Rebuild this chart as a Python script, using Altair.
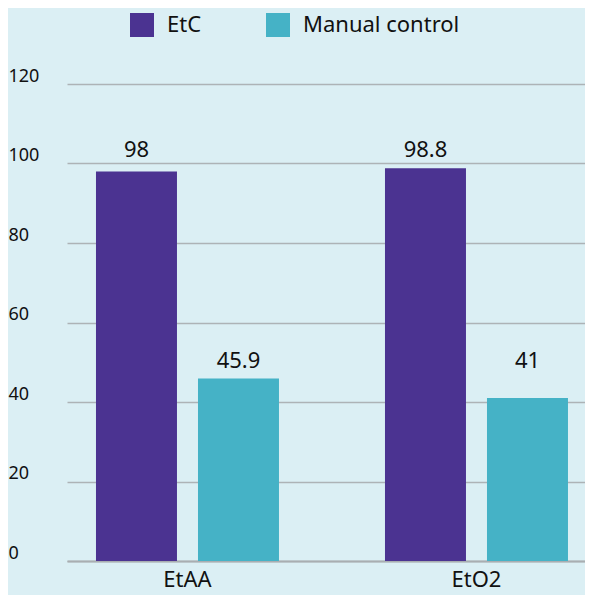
import altair as alt
import pandas as pd

categories = ["EtAA", "EtO2"]
series = ["EtC", "Manual control"]
etc_values = [98, 98.8]
manual_values = [45.9, 41]
etc_labels = ["98", "98.8"]
manual_labels = ["45.9", "41"]
y_ticks = [0, 20, 40, 60, 80, 100, 120]
colors = ["#4B3391", "#45B2C6"]

rows = []
for i, c in enumerate(categories):
    rows.append({"category": c, "series": series[0], "value": etc_values[i], "label": etc_labels[i]})
    rows.append({"category": c, "series": series[1], "value": manual_values[i], "label": manual_labels[i]})
df = pd.DataFrame(rows)

FONT = "Noto Sans"
TXT = "#111111"

x = alt.X(
    "category:N",
    sort=categories,
    scale=alt.Scale(paddingInner=0.3668, paddingOuter=0.0796, align=0.63),
    axis=alt.Axis(
        title=None, labelAngle=0, labelFontSize=22, labelColor=TXT, labelFont=FONT,
        labelPadding=8, ticks=False, domainColor="#A9AEB1", domainWidth=2, grid=False,
    ),
)
xo = alt.XOffset("series:N", sort=series, scale=alt.Scale(paddingInner=0.206, paddingOuter=0))

bars = alt.Chart(df).mark_bar().encode(
    x=x,
    xOffset=xo,
    y=alt.Y(
        "value:Q",
        scale=alt.Scale(domain=[0, 120]),
        axis=alt.Axis(
            values=y_ticks, title=None, domain=False, ticks=False, labelAlign="left",
            labelPadding=59, labelFontSize=18, labelFont=FONT, labelColor=TXT,
            labelBaseline="alphabetic", labelOffset=-3, labelFlush=False,
            gridColor="#ADB3B6", gridWidth=1.5,
        ),
    ),
    color=alt.Color(
        "series:N",
        sort=series,
        scale=alt.Scale(domain=series, range=colors),
        legend=alt.Legend(
            title=None, orient="none", legendX=63, legendY=-71, direction="horizontal",
            symbolType="square", symbolSize=576, symbolStrokeWidth=0, symbolOpacity=1,
            labelFontSize=22, labelFont=FONT, labelColor=TXT, labelOffset=13,
            columnPadding=64,
        ),
    ),
)

texts = alt.Chart(df).transform_joinaggregate(
    maxv="max(value)", groupby=["series"]
).mark_text(
    dy=-11, baseline="alphabetic", fontSize=22, font=FONT, color=TXT
).encode(
    x=x,
    xOffset=xo,
    y=alt.Y("maxv:Q", scale=alt.Scale(domain=[0, 120])),
    text="label:N",
)

chart = alt.layer(bars, texts).properties(
    width=518,
    height=477,
    autosize=alt.AutoSizeParams(type="none"),
    padding={"left": 59, "top": 76, "right": 0, "bottom": 34},
    background="#DBEFF4",
).configure_view(stroke=None)

chart.save("out.html", embed_options={"renderer": "svg", "actions": False})
